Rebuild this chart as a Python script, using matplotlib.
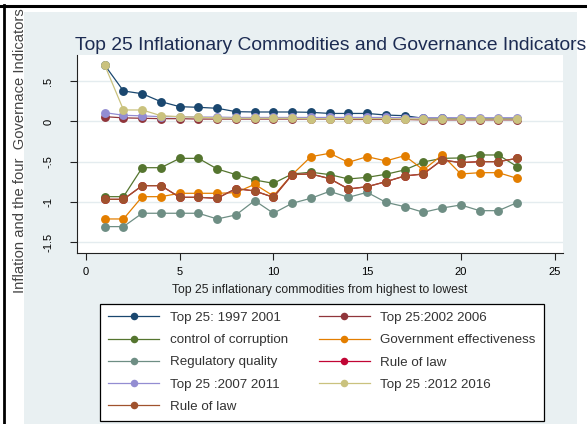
import matplotlib
matplotlib.use("Agg")
import matplotlib.pyplot as plt
from matplotlib.patches import Rectangle
from matplotlib.lines import Line2D

plt.rcParams['font.family'] = ['Liberation Sans', 'DejaVu Sans']

# ---------------- data ----------------
rank = list(range(1, 24))

top25_1997_2001 = [0.70, 0.379, 0.345, 0.246, 0.184, 0.176, 0.164, 0.122, 0.118, 0.118, 0.118, 0.114,
                   0.10, 0.10, 0.10, 0.08, 0.072, 0.04, 0.04, 0.035, 0.035, 0.035, 0.035]
top25_2002_2006 = [0.06, 0.045, 0.04, 0.035, 0.035, 0.03, 0.03, 0.03, 0.03, 0.03, 0.03, 0.03,
                   0.03, 0.025, 0.025, 0.025, 0.025, 0.02, 0.02, 0.02, 0.02, 0.02, 0.02]
control_corruption = [-0.934, -0.934, -0.574, -0.574, -0.458, -0.458, -0.59, -0.66, -0.727, -0.768, -0.652, -0.63,
                      -0.66, -0.714, -0.694, -0.656, -0.602, -0.503, -0.458, -0.453, -0.416, -0.416, -0.56]
gov_effectiveness = [-1.211, -1.211, -0.934, -0.934, -0.892, -0.892, -0.892, -0.884, -0.78, -0.925, -0.66, -0.437,
                     -0.395, -0.507, -0.437, -0.49, -0.425, -0.602, -0.416, -0.652, -0.636, -0.636, -0.706]
regulatory_quality = [-1.306, -1.306, -1.14, -1.14, -1.14, -1.14, -1.211, -1.161, -0.983, -1.14, -1.016, -0.954,
                      -0.868, -0.942, -0.88, -1.004, -1.058, -1.128, -1.075, -1.037, -1.108, -1.108, -1.008]
rule_of_law_a = [-0.967, -0.967, -0.797, -0.797, -0.942, -0.942, -0.954, -0.834, -0.863, -0.942, -0.66, -0.652,
                 -0.71, -0.839, -0.81, -0.748, -0.677, -0.652, -0.478, -0.511, -0.499, -0.499, -0.458]
top25_2007_2011 = [0.11, 0.077, 0.07, 0.06, 0.06, 0.055, 0.055, 0.05, 0.05, 0.05, 0.05, 0.05,
                   0.05, 0.05, 0.05, 0.05, 0.047, 0.047, 0.047, 0.047, 0.047, 0.047, 0.047]
top25_2012_2016 = [0.70, 0.143, 0.143, 0.072, 0.06, 0.052, 0.045, 0.04, 0.04, 0.04, 0.04, 0.035,
                   0.035, 0.035, 0.035, 0.035, 0.031, 0.031, 0.031, 0.031, 0.031, 0.031, 0.031]
rule_of_law_b = [-0.967, -0.967, -0.797, -0.797, -0.942, -0.942, -0.954, -0.834, -0.863, -0.942, -0.66, -0.652,
                 -0.71, -0.839, -0.81, -0.748, -0.677, -0.652, -0.478, -0.511, -0.499, -0.499, -0.458]

series_labels = ["Top 25: 1997 2001", "Top 25:2002 2006", "control of corruption",
                 "Government effectiveness", "Regulatory quality", "Rule of law",
                 "Top 25 :2007 2011", "Top 25 :2012 2016", "Rule of law"]
series_values = [top25_1997_2001, top25_2002_2006, control_corruption, gov_effectiveness,
                 regulatory_quality, rule_of_law_a, top25_2007_2011, top25_2012_2016, rule_of_law_b]
series_colors = ["#1a476f", "#90353b", "#55752f", "#e37e00", "#6e8e84",
                 "#c10534", "#938dd2", "#cac27e", "#a0522d"]

x_ticks = [0, 5, 10, 15, 20, 25]
x_ticklabels = ["0", "5", "10", "15", "20", "25"]
y_ticks = [0.5, 0, -0.5, -1, -1.5]
y_ticklabels = [".5", "0", "-.5", "-1", "-1.5"]

title = "Top 25 Inflationary Commodities and Governance Indicators"
xlabel = "Top 25 inflationary commodities from highest to lowest"
ylabel = "Inflation and the four  Governace Indicators"

# ---------------- figure ----------------
W, H = 587, 424
fig = plt.figure(figsize=(W / 100, H / 100), dpi=100, facecolor="white")

def fx(px):
    return px / W

def fy(py):
    return 1 - py / H

# light graph region
fig.patches.append(Rectangle((fx(24), 0), fx(577) - fx(24), fy(12), transform=fig.transFigure,
                             facecolor="#e9f0f2", edgecolor="none", zorder=-5))

ax = fig.add_axes([fx(77), fy(253.5), fx(563) - fx(77), (253.5 - 55) / H])
ax.set_zorder(1)
ax.set_facecolor("white")
ax.set_xlim(-0.48, 25.45)
ax.set_ylim(-1.64, 0.826)

for v in y_ticks:
    ax.axhline(v, color="#e4ecef", lw=1.0, zorder=0)

for vals, lab, col in zip(series_values, series_labels, series_colors):
    ax.plot(rank, vals, color=col, lw=0.9, marker="o", markersize=6.4,
            markeredgewidth=0, label=lab, zorder=2)

for s in ["top", "right"]:
    ax.spines[s].set_visible(False)
for s in ["left", "bottom"]:
    ax.spines[s].set_color("#222222")
    ax.spines[s].set_linewidth(0.8)

ax.set_xticks(x_ticks)
ax.set_xticklabels(x_ticklabels, fontsize=8)
ax.set_yticks(y_ticks)
ax.set_yticklabels(y_ticklabels, fontsize=8, rotation=90, va="center")
ax.tick_params(axis="both", direction="out", length=5, width=0.8, color="#222222", pad=12)
ax.tick_params(axis="x", pad=5)

ax.set_xlabel(xlabel, fontsize=8.8, color="#222222", labelpad=5)

# title and y label placed in figure coords
fig.text(fx(75), fy(50), title, fontsize=13.9, color="#1c2b52", ha="left", va="baseline", zorder=3)
fig.text(fx(20), fy(293), ylabel, fontsize=10.6, color="#444444", rotation=90,
         ha="center", va="bottom", zorder=3)

# top border cover and black frame lines
fig.patches.append(Rectangle((0, fy(5)), 1, 1 - fy(5), transform=fig.transFigure,
                             facecolor="white", edgecolor="none", zorder=10))
fig.lines.append(Line2D([0, 1], [fy(6), fy(6)], transform=fig.transFigure,
                        color="black", lw=2.2, zorder=11))
fig.lines.append(Line2D([fx(4), fx(4)], [0, fy(5)], transform=fig.transFigure,
                        color="black", lw=2.0, zorder=11))

# legend: row-major order in reference -> column-major handles
handles, labels = ax.get_legend_handles_labels()
order = [0, 2, 4, 6, 8, 1, 3, 5, 7]
leg = fig.legend([handles[i] for i in order], [labels[i] for i in order],
                 ncol=2, loc="upper left", bbox_to_anchor=(fx(100), fy(303.5)),
                 borderaxespad=0, fontsize=9.6, frameon=True, fancybox=False,
                 edgecolor="black", facecolor="white", framealpha=1,
                 handlelength=3.8, handletextpad=0.8, columnspacing=2.35,
                 labelspacing=0.74, borderpad=0.62, markerscale=0.85)
leg.set_zorder(4)
leg.get_frame().set_linewidth(0.9)
for t in leg.get_texts():
    t.set_color("#333333")

fig.savefig("out.png", dpi=100, facecolor="white")
